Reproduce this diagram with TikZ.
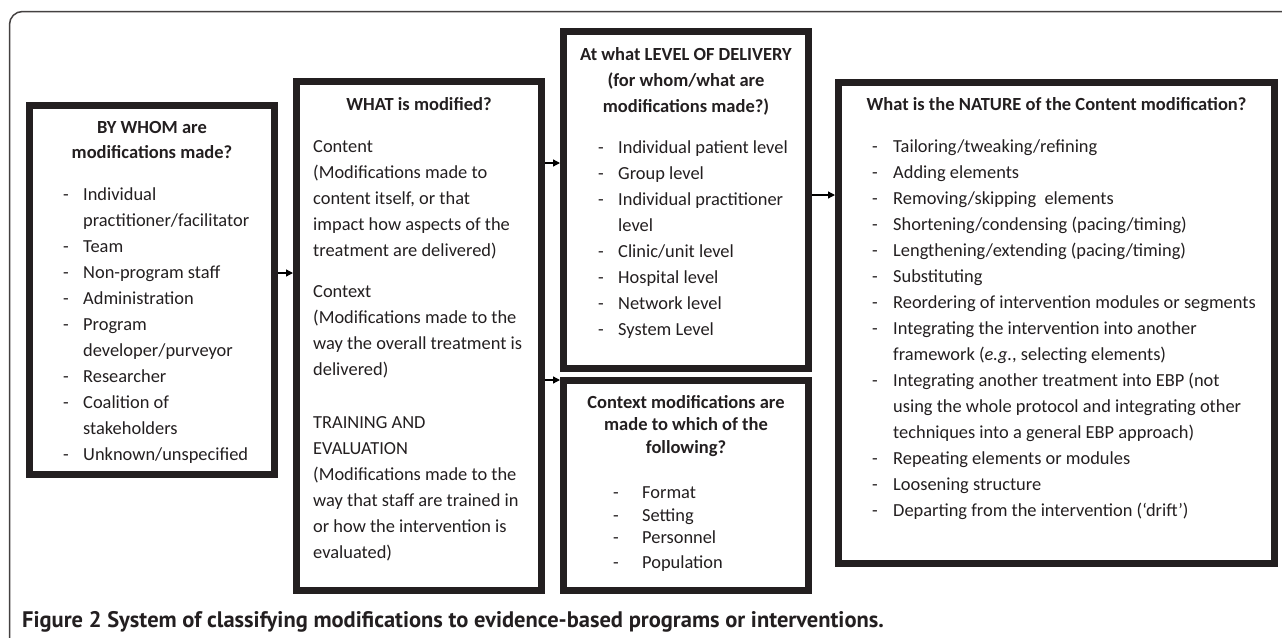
\documentclass[tikz,border=0pt]{standalone}
\usepackage{fontspec}
\setmainfont{Carlito}
\newfontfamily\capfont{PT Sans}
\usetikzlibrary{arrows.meta}
\definecolor{ink}{HTML}{231F20}
\newcommand\lstep{26}
\newcommand\putlines[5]{%
  \foreach \t [count=\i from 0] in {#5} {\node[#2] (#1-\i) at ({#3},{#4+\lstep*\i}) {\t};}}
\begin{document}
\begin{tikzpicture}[x=1pt,y=-1pt,
  box/.style={draw=ink, line width=7pt, rectangle, inner sep=0pt},
  txt/.style={anchor=base west, inner sep=0pt, font=\fontsize{18.4}{20}\selectfont, text=ink},
  ttl/.style={anchor=base, inner sep=0pt, font=\fontsize{18.5}{20}\selectfont\bfseries, text=ink},
  arr/.style={draw=black, line width=1.3pt, -{Triangle[length=7pt,width=7pt]}}]
\useasboundingbox (0,0) rectangle (1282,637);
\clip (0,0) rectangle (1282,637);
\fill[white] (0,0) rectangle (1282,637);
\draw[line width=1.5pt, draw=ink!85, rounded corners=13pt] (9.5,660) -- (9.5,11.5) -- (1300,11.5);

% boxes
\node[box, minimum width=245pt, minimum height=369pt] (b1) at (152,290) {};
\node[box, minimum width=245pt, minimum height=509pt] (b2) at (419,336) {};
\node[box, minimum width=245pt, minimum height=337pt] (b3) at (686,200) {};
\node[box, minimum width=245pt, minimum height=210pt] (b4) at (686,485.5) {};
\node[box, minimum width=436pt, minimum height=481pt] (b5) at (1056.5,323) {};

% box 1
\node[ttl] (t1a) at (152,133) {BY WHOM are};
\node[ttl] (t1b) at (152,158) {modifications made?};
\putlines{l1}{txt}{83}{200}{Individual,practitioner/facilitator,Team,Non-program staff,Administration,Program,developer/purveyor,Researcher,Coalition of,stakeholders,Unknown/unspecified}
\foreach \i in {0,2,3,4,5,7,8,10} {\node[txt] (d1-\i) at (63,{200+\lstep*\i}) {-};}

% box 2
\node[ttl] (t2) at (419,110) {WHAT is modified?};
\putlines{l2a}{txt}{313}{152}{Content,{(Modifications made to},{content itself, or that},impact how aspects of the,{treatment are delivered)}}
\putlines{l2b}{txt}{313}{297}{Context,{(Modifications made to the},way the overall treatment is,{delivered)}}
\putlines{l2c}{txt}{313}{428}{TRAINING AND,EVALUATION,{(Modifications made to the},way that staff are trained in,or how the intervention is,{evaluated)}}

% box 3
\node[ttl] (t3a) at (686,60) {At what LEVEL OF DELIVERY};
\node[ttl] (t3b) at (686,86) {(for whom/what are};
\node[ttl] (t3c) at (686,112) {modifications made?)};
\putlines{l3}{txt}{618}{153}{Individual patient level,Group level,Individual practitioner,level,Clinic/unit level,Hospital level,Network level,System Level}
\foreach \i in {0,1,2,4,5,6,7} {\node[txt] (d3-\i) at (598,{153+\lstep*\i}) {-};}

% box 4
\node[ttl] (t4a) at (686,408) {Context modifications are};
\node[ttl] (t4b) at (686,430.5) {made to which of the};
\node[ttl] (t4c) at (686,453) {following?};
\foreach \t/\yy [count=\i from 0] in {Format/498,Setting/521,Personnel/543,Population/568} {
  \node[txt] (d4-\i) at (613,\yy) {-};
  \node[txt] (l4-\i) at (642,\yy) {\t};}

% box 5
\node[ttl] (t5) at (1056.5,110) {What is the NATURE of the Content modification?};
\putlines{l5}{txt}{893}{152}{Tailoring/tweaking/refining,Adding elements,Removing/skipping\ \ elements,{Shortening/condensing (pacing/timing)},{Lengthening/extending (pacing/timing)},Substituting,Reordering of intervention modules or segments,Integrating the intervention into another,{framework (\textit{e.g.}, selecting elements)},{Integrating another treatment into EBP (not},using the whole protocol and integrating other,{techniques into a general EBP approach)},Repeating elements or modules,Loosening structure,{Departing from the intervention (‘drift’)}}
\foreach \i in {0,1,2,3,4,5,6,7,9,12,13,14} {\node[txt] (d5-\i) at (872,{152+\lstep*\i}) {-};}

% connectors
\coordinate (y1) at (0,273);
\coordinate (y2) at (0,163);
\coordinate (y3) at (0,380);
\coordinate (y4) at (0,195);
\draw[arr] (b1.east |- y1) -- (b2.west |- y1);
\draw[arr] (b2.east |- y2) -- (b3.west |- y2);
\draw[arr] (b2.east |- y3) -- (b4.west |- y3);
\draw[arr] (b3.east |- y4) -- (b5.west |- y4);

% caption
\node[anchor=base west, inner sep=0pt, text=ink, font=\capfont\fontsize{22.5}{24}\selectfont\bfseries] (cap) at (22,627)
  {Figure 2 System of classifying modifications to evidence-based programs or interventions.};
\end{tikzpicture}
\end{document}
